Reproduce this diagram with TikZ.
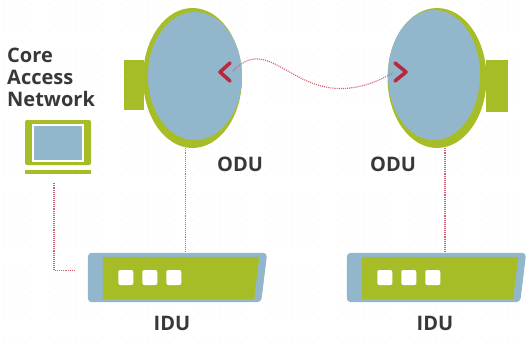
\documentclass[tikz,border=0pt]{standalone}
\usepackage{fontspec}
\setmainfont{Open Sans}
\usetikzlibrary{shapes.geometric,positioning,calc}
\definecolor{dish}{HTML}{92B6CC}
\definecolor{lime}{HTML}{A7BD28}
\definecolor{beam}{HTML}{D45F72}
\definecolor{tip}{HTML}{B8283F}
\definecolor{ink}{HTML}{383838}

\begin{document}
\begin{tikzpicture}[x=1pt,y=-1pt,
  font=\fontsize{20}{22}\selectfont\bfseries,
  rim/.style={ellipse, fill=lime, minimum width=99pt, minimum height=140pt, inner sep=0},
  face/.style={ellipse, fill=dish, minimum width=94pt, minimum height=128pt, inner sep=0},
  mount/.style={fill=lime, minimum width=20pt, minimum height=50pt, inner sep=0},
  unit/.style={minimum width=179pt, minimum height=49pt, inner sep=0},
  led/.style={fill=white, rounded corners=2pt, minimum size=15pt, inner sep=0},
  link/.style={densely dotted, beam, line width=1.1pt},
  chev/.style={tip, line width=3.6pt, line join=round, line cap=round},
  lbl/.style={text=ink, inner sep=0}]

\useasboundingbox (0,0) rectangle (526,338);

% faint dot grid
\foreach \i in {0,...,58}
  \foreach \j in {0,...,37}
    \fill[black!8] (4+9*\i,4+9*\j) circle (0.6pt);

% dishes
\node[mount] (mountL) at (134,85) {};
\node[rim] (rimL) at (192.5,78) {};
\node[face] (odu1) at (195,76) {};

\node[mount, minimum width=22pt, minimum height=52pt] (mountR) at (497,86) {};
\node[rim] (rimR) at (437,78) {};
\node[face, minimum width=92pt, minimum height=130pt] (odu2) at (434,75) {};

\node[lbl] (oduL) at (240,164) {ODU};
\node[lbl] (oduR) at (393,164) {ODU};

% laptop
\node[fill=lime, rounded corners=2pt, minimum width=66pt, minimum height=45pt, inner sep=0] (lap) at (58,142.5) {};
\node[fill=dish, draw=white, line width=1.2pt, minimum width=50pt, minimum height=36pt, inner sep=0] (screen) at (58,143) {};
\node[fill=lime, minimum width=66pt, minimum height=4pt, inner sep=0] (base) at (58,172) {};
\node[lbl, anchor=north west, align=left] (can) at (7,48) {Core\\Access\\Network};

% indoor units
\foreach \n/\cx in {1/177.5,2/436.5}{
  \node[unit] (idu\n) at (\cx,277.5) {};
  \fill[dish, rounded corners=4pt] (idu\n.north west) -- (idu\n.north east)
    -- ([xshift=-6pt]idu\n.south east) -- (idu\n.south west) -- cycle;
  \fill[lime] ([shift={(15pt,-4pt)}]idu\n.north west) -- ([shift={(-8pt,-4pt)}]idu\n.north east)
    -- ([shift={(-13pt,3pt)}]idu\n.south east) -- ([shift={(15pt,3pt)}]idu\n.south west) -- cycle;
  \foreach \k in {0,1,2}
    \node[led] (idu\n led\k) at ([xshift={(38+24*\k)*1pt}]idu\n.west) {};
}
\node[lbl] (iduL) at (172,323) {IDU};
\node[lbl] (iduR) at (435,323) {IDU};

% cabling
\draw[link] ([shift={(-4pt,-9pt)}]base.south) |- ([shift={(-12pt,7pt)}]idu1.west);
\draw[link] ([xshift=-7pt]rimL.south) -- ([xshift=-7pt]rimL.south |- idu1.north);
\draw[link] ([xshift=8pt]rimR.south) -- ([xshift=8pt]rimR.south |- idu2.north);

% radio link
\coordinate (beamL) at (233,71);
\coordinate (beamR) at (393,73);
\draw[link] (beamL) .. controls +(43,-45) and +(-93,52) .. (beamR);
\draw[chev] ([shift={(-3pt,8pt)}]beamL) -- ([shift={(-13pt,-1pt)}]beamL) -- ([shift={(-3pt,-10pt)}]beamL);
\draw[chev] ([shift={(2pt,10pt)}]beamR) -- ([shift={(13pt,1pt)}]beamR) -- ([shift={(2pt,-8pt)}]beamR);
\end{tikzpicture}
\end{document}
